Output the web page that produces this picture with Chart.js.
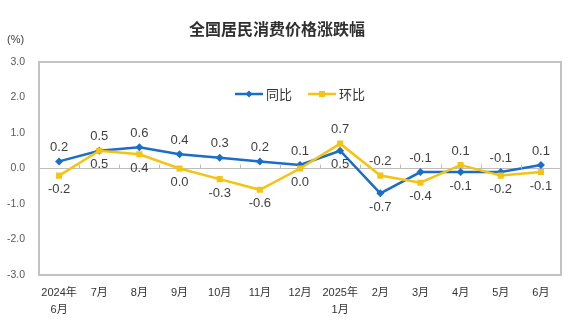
<!DOCTYPE html>
<html>
<head>
<meta charset="utf-8">
<script src="https://cdn.jsdelivr.net/npm/chart.js@4/dist/chart.umd.min.js"></script>
<style>
  html, body { margin: 0; padding: 0; background: #ffffff; }
  #wrap { width: 580px; height: 332px; }
</style>
</head>
<body>
<div id="wrap"><canvas id="c" width="580" height="332"></canvas></div>
<script>
const chartTitle = "全国居民消费价格涨跌幅";
const unitLabel = "(%)";
const categories = [["2024年", "6月"], "7月", "8月", "9月", "10月", "11月", "12月", ["2025年", "1月"], "2月", "3月", "4月", "5月", "6月"];
const seriesNames = ["同比", "环比"];
const yoyValues = [0.2, 0.5, 0.6, 0.4, 0.3, 0.2, 0.1, 0.5, -0.7, -0.1, -0.1, -0.1, 0.1];
const momValues = [-0.2, 0.5, 0.4, 0.0, -0.3, -0.6, 0.0, 0.7, -0.2, -0.4, 0.1, -0.2, -0.1];
const yMin = -3, yMax = 3, yStep = 1;

const BLUE = '#1b6ec6';
const YELLOW = '#f5c312';
const CJK = "'Liberation Sans', 'Noto Sans CJK SC', sans-serif";

const overlay = {
  id: 'overlay',
  afterDraw(chart) {
    const { ctx, chartArea: a, scales: { x, y } } = chart;
    ctx.save();
    // plot border
    ctx.strokeStyle = '#c3c3c3';
    ctx.lineWidth = 2;
    ctx.strokeRect(a.left, a.top, a.right - a.left, a.bottom - a.top);
    // tick marks on zero line
    const y0 = y.getPixelForValue(0);
    ctx.strokeStyle = '#bdbdbd';
    ctx.lineWidth = 1;
    for (let i = 1; i < categories.length; i++) {
      const px = Math.round(x.getPixelForValue(i - 0.5)) + 0.5;
      ctx.beginPath();
      ctx.moveTo(px, y0);
      ctx.lineTo(px, y0 - 4);
      ctx.stroke();
    }
    // title
    ctx.fillStyle = '#303030';
    ctx.textAlign = 'center';
    ctx.textBaseline = 'middle';
    ctx.font = "bold 16px 'Noto Sans CJK SC', sans-serif";
    ctx.fillText(chartTitle, 277, 29);
    // unit
    ctx.font = "11px " + CJK;
    ctx.fillStyle = '#404040';
    ctx.textAlign = 'left';
    ctx.fillText(unitLabel, 7, 40);
    // legend
    const legendY = 94;
    const legendX = [235, 308];
    ctx.font = "13px 'Noto Sans CJK SC', sans-serif";
    chart.data.datasets.forEach((ds, di) => {
      const lx = legendX[di];
      ctx.strokeStyle = ds.borderColor;
      ctx.lineWidth = 2.5;
      ctx.beginPath();
      ctx.moveTo(lx, legendY);
      ctx.lineTo(lx + 28, legendY);
      ctx.stroke();
      ctx.fillStyle = ds.borderColor;
      if (di === 0) {
        ctx.beginPath();
        ctx.moveTo(lx + 14, legendY - 3.5);
        ctx.lineTo(lx + 17.5, legendY);
        ctx.lineTo(lx + 14, legendY + 3.5);
        ctx.lineTo(lx + 10.5, legendY);
        ctx.closePath();
        ctx.fill();
      } else {
        ctx.fillRect(lx + 11, legendY - 3, 6, 6);
      }
      ctx.fillStyle = '#333333';
      ctx.textAlign = 'left';
      ctx.fillText(ds.label, lx + 31, legendY);
    });
    // data labels
    ctx.font = "13px 'Liberation Sans', Arial, sans-serif";
    ctx.fillStyle = '#404040';
    ctx.textAlign = 'center';
    ctx.textBaseline = 'middle';
    const sets = chart.data.datasets;
    sets.forEach((ds, di) => {
      const meta = chart.getDatasetMeta(di);
      const other = sets[1 - di].data;
      meta.data.forEach((pt, i) => {
        const v = ds.data[i];
        const o = other[i];
        const above = di === 0 ? v >= o : v > o;
        ctx.fillText(v.toFixed(1), pt.x, above ? pt.y - 14 : pt.y + 14);
      });
    });
    ctx.restore();
  }
};

new Chart(document.getElementById('c'), {
  type: 'line',
  data: {
    labels: categories,
    datasets: [
      {
        label: seriesNames[0],
        data: yoyValues,
        borderColor: BLUE,
        backgroundColor: BLUE,
        borderWidth: 2.5,
        pointStyle: 'rectRot',
        pointRadius: 4,
        pointBorderWidth: 0,
        tension: 0,
        order: 2
      },
      {
        label: seriesNames[1],
        data: momValues,
        borderColor: YELLOW,
        backgroundColor: YELLOW,
        borderWidth: 2.5,
        pointStyle: 'rect',
        pointRadius: 4.3,
        pointBorderWidth: 0,
        tension: 0,
        order: 1
      }
    ]
  },
  options: {
    responsive: false,
    animation: false,
    devicePixelRatio: 1,
    layout: { padding: { left: 0, right: 19, top: 62, bottom: 0 } },
    plugins: {
      legend: { display: false },
      title: { display: false },
      tooltip: { enabled: false }
    },
    scales: {
      x: {
        offset: true,
        grid: { display: false, drawTicks: false },
        border: { display: false },
        ticks: {
          autoSkip: false,
          maxRotation: 0,
          minRotation: 0,
          padding: 9,
          color: '#333333',
          font: { size: 11, family: CJK, lineHeight: 1.6 }
        },
        afterFit(scale) { scale.height = 57; }
      },
      y: {
        min: yMin,
        max: yMax,
        grid: {
          drawTicks: false,
          color: (c) => (c.tick && c.tick.value === 0 ? '#bdbdbd' : 'rgba(0,0,0,0)'),
          lineWidth: 1
        },
        border: { display: false },
        ticks: {
          stepSize: yStep,
          padding: 14,
          color: '#595959',
          font: { size: 10.5, family: "'Liberation Sans', Arial, sans-serif" },
          callback: (v) => Number(v).toFixed(1)
        },
        afterFit(scale) { scale.width = 39; }
      }
    }
  },
  plugins: [overlay]
});
</script>
</body>
</html>
